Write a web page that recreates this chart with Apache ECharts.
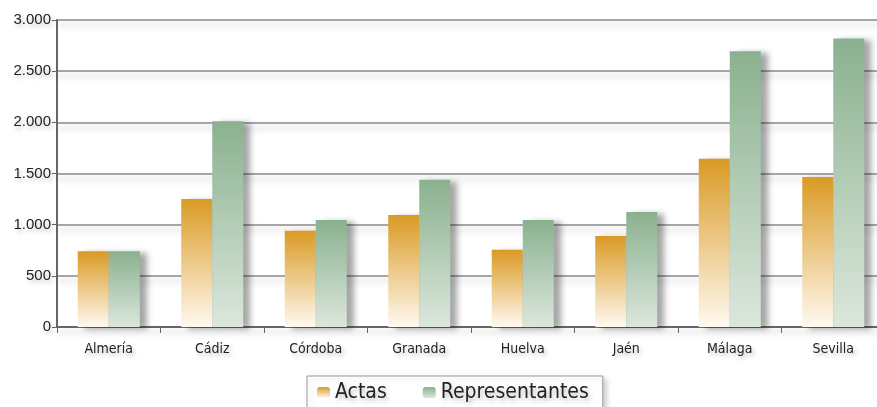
<!DOCTYPE html>
<html>
<head>
<meta charset="utf-8">
<script src="https://cdn.jsdelivr.net/npm/echarts@6/dist/echarts.min.js"></script>
<style>
  html, body { margin: 0; padding: 0; background: #fff; }
  #chart { width: 877px; height: 407px; }
</style>
</head>
<body>
<div id="chart"></div>
<script>
// provincias
const provincias = ['Almería', 'Cádiz', 'Córdoba', 'Granada', 'Huelva', 'Jaén', 'Málaga', 'Sevilla'];
const actas = [740, 1250, 940, 1095, 755, 890, 1645, 1465];
const representantes = [740, 2010, 1045, 1440, 1045, 1125, 2695, 2820];

const chart = echarts.init(document.getElementById('chart'));

const gradActas = new echarts.graphic.LinearGradient(0, 0, 0, 1, [
  { offset: 0, color: '#DA9A24' },
  { offset: 1, color: '#FFF9F0' }
]);
const gradRepr = new echarts.graphic.LinearGradient(0, 0, 0, 1, [
  { offset: 0, color: '#8AB18F' },
  { offset: 1, color: '#DCE7DC' }
]);

const textShadow = {
  textShadowColor: 'rgba(0,0,0,0.25)',
  textShadowBlur: 4,
  textShadowOffsetX: 2,
  textShadowOffsetY: 3
};
const narrow = '"Liberation Sans Narrow", "DejaVu Sans Condensed", sans-serif';

chart.setOption({
  animation: false,
  grid: { left: 57, right: -8, top: 20, bottom: 80, containLabel: false, outerBoundsMode: 'none' },
  legend: {
    bottom: -6,
    left: 307,
    itemWidth: 13,
    itemHeight: 11,
    itemGap: 36,
    padding: [6, 14, 10, 10],
    borderColor: '#999',
    borderWidth: 1,
    backgroundColor: '#fff',
    shadowColor: 'rgba(0,0,0,0.2)',
    shadowBlur: 6,
    shadowOffsetX: 3,
    shadowOffsetY: 3,
    textStyle: Object.assign({
      fontFamily: narrow,
      fontSize: 21,
      color: '#222'
    }, textShadow),
    data: ['Actas', 'Representantes']
  },
  xAxis: {
    type: 'category',
    data: provincias,
    axisLine: { lineStyle: { color: '#666', width: 2 } },
    axisTick: { show: true, length: 6, lineStyle: { color: '#666', width: 1 } },
    axisLabel: Object.assign({
      fontFamily: narrow,
      fontSize: 14,
      color: '#222',
      margin: 15
    }, textShadow)
  },
  yAxis: {
    type: 'value',
    min: 0,
    max: 3000,
    interval: 500,
    axisLine: { show: true, lineStyle: { color: '#666', width: 2 } },
    axisTick: { show: true, length: 5, lineStyle: { color: '#666' } },
    axisLabel: Object.assign({
      fontFamily: '"Liberation Sans", Arial, sans-serif',
      fontSize: 15,
      color: '#222',
      margin: 6,
      formatter: v => v === 0 ? '0' : v.toLocaleString('de-DE')
    }, textShadow),
    splitLine: {
      lineStyle: {
        color: '#888',
        width: 1.5,
        shadowColor: 'rgba(0,0,0,0.25)',
        shadowBlur: 6,
        shadowOffsetY: 5
      }
    }
  },
  series: [
    {
      name: 'Actas',
      type: 'bar',
      data: actas,
      barWidth: 31,
      barGap: '0%',
      itemStyle: {
        color: gradActas,
        shadowColor: 'rgba(0,0,0,0.35)',
        shadowBlur: 6,
        shadowOffsetX: 7,
        shadowOffsetY: 2
      }
    },
    {
      name: 'Representantes',
      type: 'bar',
      data: representantes,
      barWidth: 31,
      barGap: '0%',
      itemStyle: {
        color: gradRepr,
        shadowColor: 'rgba(0,0,0,0.35)',
        shadowBlur: 6,
        shadowOffsetX: 7,
        shadowOffsetY: 2
      }
    }
  ]
});
</script>
</body>
</html>
